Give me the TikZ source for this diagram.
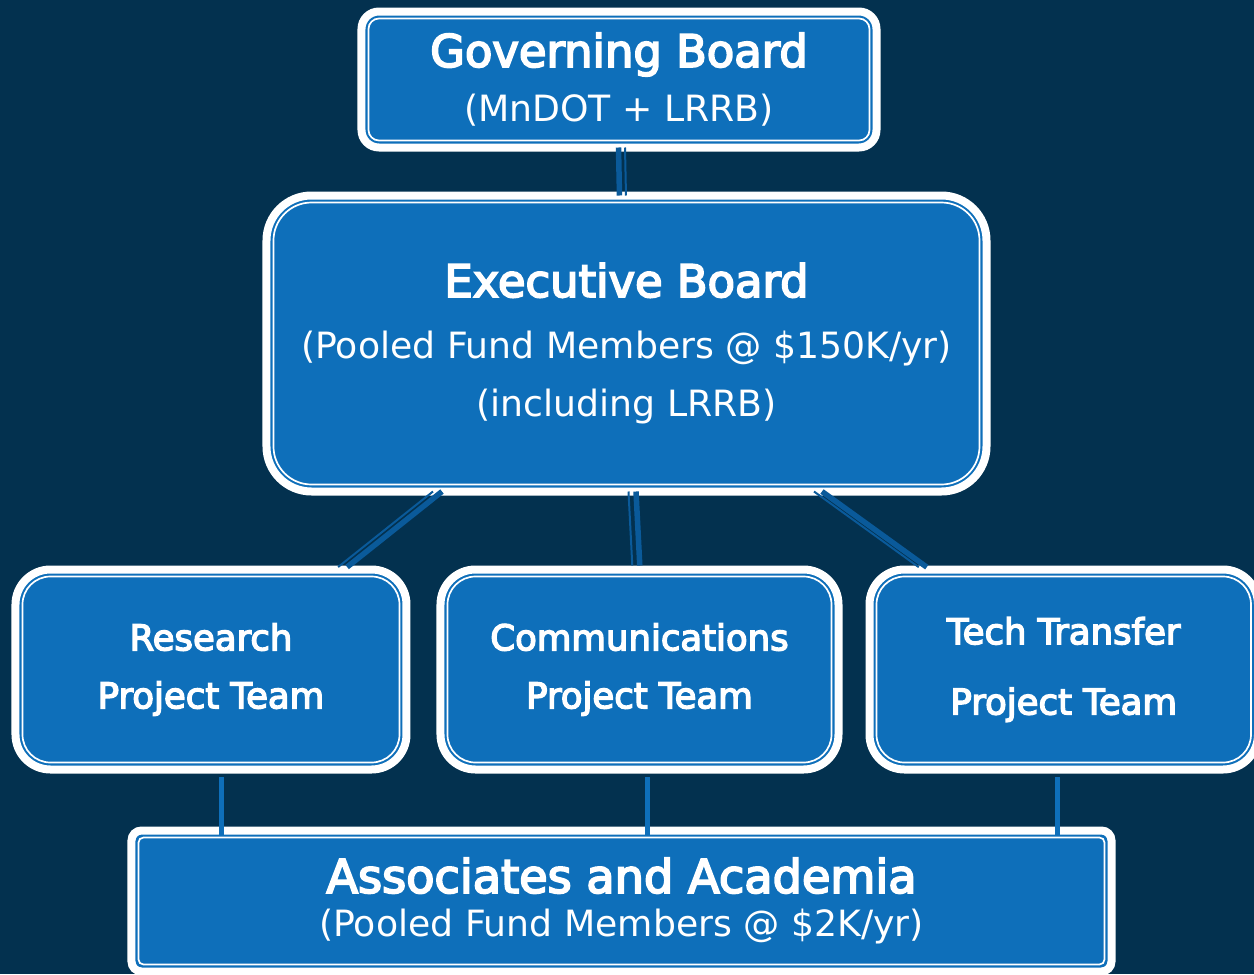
\documentclass[tikz,border=0pt]{standalone}
\usepackage{fontspec}
\setmainfont{DejaVu Sans}
\newfontfamily\semibold[FakeBold=4]{DejaVu Sans}
\usetikzlibrary{positioning}

\definecolor{navybg}{HTML}{03314F}
\definecolor{boxblue}{HTML}{0E6FBA}
\definecolor{linkblue}{HTML}{0A5A9A}

\newcommand{\titlefont}{\fontsize{25.5}{30}\semibold}
\newcommand{\subfont}{\fontsize{20.6}{30}\selectfont}
\newcommand{\teamfont}{\fontsize{20.2}{30}\semibold}

\begin{document}
\begin{tikzpicture}[
    board/.style={rectangle, draw=white, line width=0.16cm, fill=boxblue, text=white, align=center, inner sep=0pt, outer sep=0pt, font=\subfont},
    team/.style={board, minimum width=7.82cm, minimum height=4cm, rounded corners=0.7cm, font=\teamfont},
    innerline/.style={draw=white, line width=0.034cm},
    link/.style={draw=linkblue, line width=0.11cm},
    linkthin/.style={draw=linkblue, line width=0.04cm},
    drop/.style={draw=boxblue, line width=0.1cm}
]

% Background
\useasboundingbox (-12.38,1.59) rectangle (12.7,-17.89);
\fill[navybg] (-12.38,1.59) rectangle (12.7,-17.89);

% Governing board
\node[board, minimum width=10.3cm, minimum height=2.72cm, rounded corners=0.35cm] (gov) at (0,0) {{\titlefont Governing Board}\\[1pt](MnDOT + LRRB)};

% Executive board
\node[board, minimum width=14.4cm, minimum height=5.92cm, rounded corners=0.9cm, below=0.96cm of gov, xshift=0.15cm] (exec) {{\titlefont Executive Board}\\[5pt](Pooled Fund Members @ \$150K/yr)\\[3pt](including LRRB)};

% Project teams
\node[team, minimum width=7.96cm, below=1.56cm of exec, xshift=0.26cm] (comm) {Communications\\[3pt]Project Team};
\node[team, left=0.68cm of comm] (research) {Research\\[3pt]Project Team};
\node[team, minimum width=7.77cm, right=0.62cm of comm] (tech) {Tech Transfer\\[10pt]Project Team};

% Associates
\node[board, minimum width=19.6cm, minimum height=2.82cm, rounded corners=0.2cm, below=1.22cm of comm, xshift=-0.36cm] (assoc) {{\titlefont\fontsize{26.3}{30}\selectfont Associates and Academia}\\[-5pt](Pooled Fund Members @ \$2K/yr)};

% Inner border lines
\foreach \n/\r in {gov/0.21, exec/0.76, research/0.56, comm/0.56, tech/0.56, assoc/0.1}
    \draw[innerline, rounded corners=\r cm] ([shift={(0.14,0.14)}]\n.south west) rectangle ([shift={(-0.14,-0.14)}]\n.north east);

% Connectors
\draw[link] ([xshift=-0.01cm]gov.south) -- ([xshift=-0.14cm]exec.north);
\draw[linkthin, transform canvas={xshift=0.13cm}] ([xshift=-0.01cm]gov.south) -- ([xshift=-0.14cm]exec.north);

\draw[link, shorten >=0.08cm] ([xshift=-3.69cm]exec.south) -- ([xshift=2.66cm]research.north);
\draw[linkthin, shorten >=0.08cm, transform canvas={xshift=-0.18cm}] ([xshift=-3.69cm]exec.south) -- ([xshift=2.66cm]research.north);
\draw[link, shorten >=0.08cm] ([xshift=0.19cm]exec.south) -- ([xshift=0.01cm]comm.north);
\draw[linkthin, shorten >=0.08cm, transform canvas={xshift=-0.15cm}] ([xshift=0.19cm]exec.south) -- ([xshift=0.01cm]comm.north);
\draw[link, shorten >=0.08cm] ([xshift=3.91cm]exec.south) -- ([xshift=-2.675cm]tech.north);
\draw[linkthin, shorten >=0.08cm, transform canvas={xshift=-0.16cm}] ([xshift=3.91cm]exec.south) -- ([xshift=-2.675cm]tech.north);

\draw[drop, shorten <=0.15cm, shorten >=-0.11cm] ([xshift=0.22cm]research.south) -- ([xshift=0.22cm]research.south |- assoc.north);
\draw[drop, shorten <=0.15cm, shorten >=-0.11cm] ([xshift=0.17cm]comm.south) -- ([xshift=0.17cm]comm.south |- assoc.north);
\draw[drop, shorten <=0.15cm, shorten >=-0.11cm] ([xshift=-0.135cm]tech.south) -- ([xshift=-0.135cm]tech.south |- assoc.north);

\end{tikzpicture}
\end{document}
